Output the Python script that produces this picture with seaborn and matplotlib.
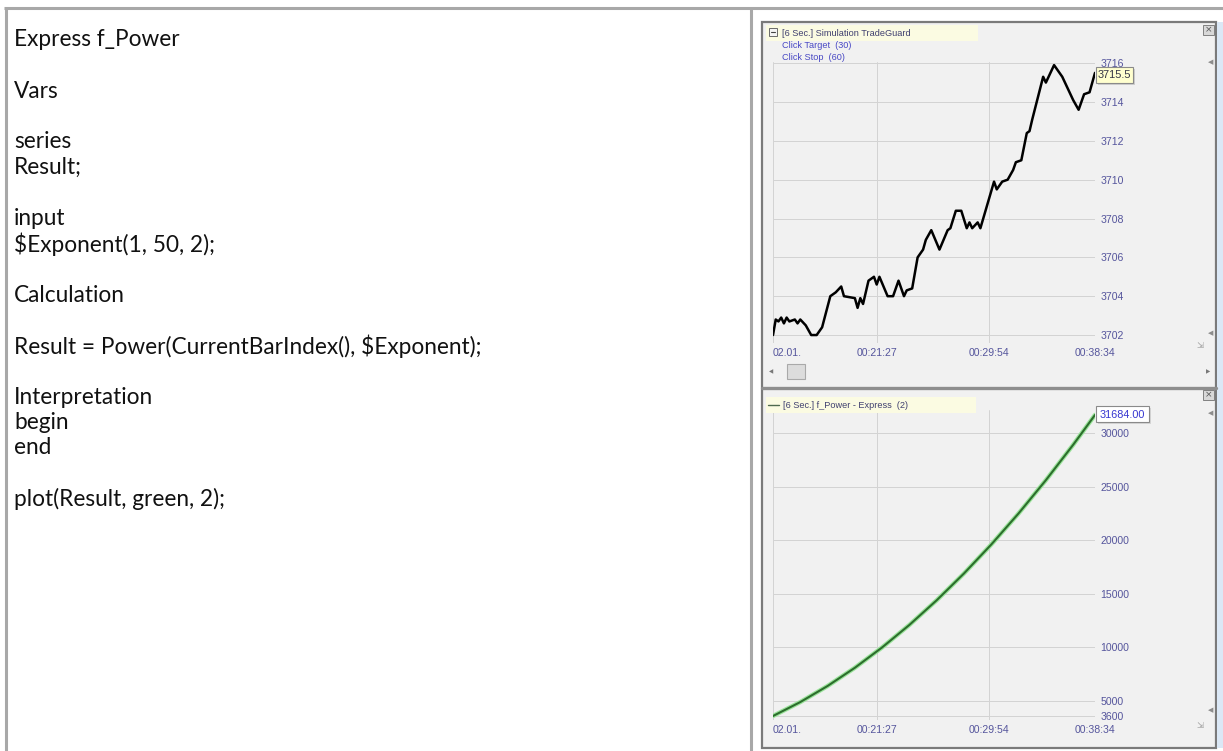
import numpy as np
import pandas as pd
import matplotlib
matplotlib.use("Agg")
import matplotlib.pyplot as plt
import seaborn as sns
from matplotlib.patches import Rectangle

# ---- data ----
code_lines = [
    (0, "Express f_Power"),
    (2, "Vars"),
    (4, "series"),
    (5, "Result;"),
    (7, "input"),
    (8, "$Exponent(1, 50, 2);"),
    (10, "Calculation"),
    (12, "Result = Power(CurrentBarIndex(), $Exponent);"),
    (14, "Interpretation"),
    (15, "begin"),
    (16, "end"),
    (18, "plot(Result, green, 2);"),
]

# upper panel: price (bar index / close)
price_bar = [60, 61, 62, 63, 64, 65, 66, 68, 69, 70, 72, 74, 76, 78, 81, 83, 85, 86,
             90, 91, 92, 93, 95, 97, 98, 99, 102, 104, 106, 108, 109, 111, 113, 115,
             116, 118, 121, 124, 125, 127, 129, 131, 132, 133, 135, 136, 141, 142,
             144, 146, 148, 149, 151, 153, 154, 155, 159, 160, 163, 164, 166, 170,
             172, 174, 176, 178]
price = [3702.0, 3702.8, 3702.7, 3702.9, 3702.6, 3702.9, 3702.7, 3702.8, 3702.6,
         3702.8, 3702.5, 3702.0, 3702.0, 3702.4, 3704.0, 3704.2, 3704.5, 3704.0,
         3703.9, 3703.4, 3703.9, 3703.6, 3704.8, 3705.0, 3704.6, 3705.0, 3704.0,
         3704.0, 3704.8, 3704.0, 3704.3, 3704.4, 3706.0, 3706.4, 3706.9, 3707.4,
         3706.4, 3707.4, 3707.5, 3708.4, 3708.4, 3707.5, 3707.8, 3707.5, 3707.8,
         3707.5, 3709.9, 3709.5, 3709.9, 3710.0, 3710.5, 3710.9, 3711.0, 3712.4,
         3712.5, 3713.1, 3715.3, 3715.0, 3715.9, 3715.7, 3715.3, 3714.1, 3713.6,
         3714.4, 3714.5, 3715.5]

# lower panel: f_Power result
power_bar = [60, 70, 80, 90, 100, 110, 120, 130, 140, 150, 160, 170, 178]
power_val = [3600, 4900, 6400, 8100, 10000, 12100, 14400, 16900, 19600, 22500,
             25600, 28900, 31684]

x_ticks = [60, 98, 139, 178]
x_labels = ["02.01.", "00:21:27", "00:29:54", "00:38:34"]
upper_yticks = [3702, 3704, 3706, 3708, 3710, 3712, 3714, 3716]
lower_yticks = [3600, 5000, 10000, 15000, 20000, 25000, 30000]

W, H = 1223, 751
TICK_COL = "#55559c"
LINE_GRAY = "#a8a8a8"


def rect(x0, y0, x1, y1):
    return [x0 / W, 1 - y1 / H, (x1 - x0) / W, (y1 - y0) / H]


def px_axes(fig, z):
    ax = fig.add_axes([0, 0, 1, 1], zorder=z)
    ax.set_xlim(0, W)
    ax.set_ylim(H, 0)
    ax.axis("off")
    ax.patch.set_alpha(0)
    return ax


def style_chart(ax, yticks):
    ax.set_facecolor("none")
    for s in ax.spines.values():
        s.set_visible(False)
    ax.set_xticks(x_ticks)
    ax.set_xticklabels(x_labels)
    ax.xaxis.get_majorticklabels()[0].set_ha("left")
    ax.set_yticks(yticks)
    ax.set_yticklabels([str(v) for v in yticks])
    ax.yaxis.tick_right()
    ax.tick_params(length=0, labelsize=7.6, colors=TICK_COL, pad=3.5)
    ax.tick_params(axis="y", pad=3.8)
    for lab in ax.get_xticklabels() + ax.get_yticklabels():
        lab.set_fontfamily("Liberation Sans")
    ax.grid(True, color="#d3d3d3", lw=0.7)
    ax.set_axisbelow(True)
    ax.set_xlabel("")
    ax.set_ylabel("")
    ax.set_xlim(60, 178)


sns.set_style("white")
plt.rcParams["font.family"] = ["Lato", "DejaVu Sans"]

fig = plt.figure(figsize=(W / 100, H / 100), dpi=100)
fig.patch.set_facecolor("white")

bg = px_axes(fig, 0)
ov = px_axes(fig, 5)

# table borders of the left cell
bg.plot([4, W], [8, 8], color=LINE_GRAY, lw=2.2, solid_capstyle="butt")
bg.plot([5.5, 5.5], [8, H], color=LINE_GRAY, lw=2.2, solid_capstyle="butt")
bg.plot([751, 751], [8, H], color=LINE_GRAY, lw=2.2, solid_capstyle="butt")

for slot, txt in code_lines:
    bg.text(14, 40 + slot * 25.5, txt, fontsize=16.3, color="#111111",
            va="center", ha="left", parse_math=False)

# chart window
bg.add_patch(Rectangle((762, 22), 454, 726, fc="#f1f1f1", ec="#7a7a7a", lw=1.6))
bg.add_patch(Rectangle((1217, 22), 6, 726, fc="#dbe8f6", ec="none"))
bg.plot([762, 1216], [388, 388], color="#8e8e8e", lw=2.4)

# chart axes
ax_top = fig.add_axes(rect(773, 62, 1095, 343), zorder=2)
ax_bot = fig.add_axes(rect(773, 410, 1095, 720), zorder=2)

df_price = pd.DataFrame({"bar": price_bar, "close": price})
df_power = pd.DataFrame({"bar": power_bar, "result": power_val})

sns.lineplot(data=df_price, x="bar", y="close", ax=ax_top, color="black",
             lw=1.8, estimator=None, sort=False)
sns.lineplot(data=df_power, x="bar", y="result", ax=ax_bot, color="#9be39b",
             lw=3.2, estimator=None, sort=False)
sns.lineplot(data=df_power, x="bar", y="result", ax=ax_bot, color="#2c6e2c",
             lw=1.5, estimator=None, sort=False)

style_chart(ax_top, upper_yticks)
ax_top.set_ylim(3701.59, 3716.06)
style_chart(ax_bot, lower_yticks)
ax_bot.set_ylim(3227, 32145)

# upper header
ov.add_patch(Rectangle((766, 25), 212, 16, fc="#fbfbe2", ec="none"))
ov.add_patch(Rectangle((769, 28), 8, 8, fc="#f4f4f4", ec="#6a6a6a", lw=0.7))
ov.plot([771, 775], [32, 32], color="#444444", lw=0.8)
ov.text(782, 33, "[6 Sec.] Simulation TradeGuard", fontsize=6.6, color="#3f3f6f",
        va="center", family="Liberation Sans")
ov.text(782, 45, "Click Target  (30)", fontsize=6.6, color="#4848c4",
        va="center", family="Liberation Sans")
ov.text(782, 57, "Click Stop  (60)", fontsize=6.6, color="#4848c4",
        va="center", family="Liberation Sans")

# lower header
ov.add_patch(Rectangle((766, 397), 210, 16, fc="#fbfbe2", ec="none"))
ov.plot([768, 779], [405, 405], color="#4f6a4f", lw=1.0)
ov.text(783, 405, "[6 Sec.] f_Power - Express  (2)", fontsize=6.6, color="#3f3f6f",
        va="center", family="Liberation Sans")

# last value boxes
ov.add_patch(Rectangle((1098, 69), 37, 16, fc="#b8b8b8", ec="none", alpha=0.6))
ov.add_patch(Rectangle((1096, 67), 37, 16, fc="#ffffcf", ec="#8a8a8a", lw=0.8))
ov.text(1114.5, 75.5, "3715.5", fontsize=7.8, color="#333344", ha="center",
        va="center", family="Liberation Sans")
ov.add_patch(Rectangle((1098, 408), 53, 16, fc="#c4c4c4", ec="none", alpha=0.6))
ov.add_patch(Rectangle((1096, 406), 53, 16, fc="white", ec="#8a8a8a", lw=0.8))
ov.text(1122.5, 414.5, "31684.00", fontsize=7.8, color="#3535d0", ha="center",
        va="center", family="Liberation Sans")

# window widgets
for y in (30, 395):
    ov.add_patch(Rectangle((1203, y - 5), 11, 10, fc="#d8d8d8", ec="#808080", lw=0.7))
    ov.text(1208.5, y, "×", fontsize=6.5, color="#555555", ha="center", va="center",
            family="DejaVu Sans")
for y in (62, 333, 413, 710):
    ov.text(1211, y, "◀", fontsize=5, color="#8c8c8c", ha="center", va="center",
            family="DejaVu Sans")
for y in (346, 726):
    ov.text(1200, y, "⇲", fontsize=6, color="#9a9a9a", ha="center", va="center",
            family="DejaVu Sans")

# scroll bar row of the upper panel
ov.text(771, 372, "◀", fontsize=4, color="#777777", ha="center", va="center",
        family="DejaVu Sans")
ov.add_patch(Rectangle((787, 364), 18, 15, fc="#dcdcdc", ec="#a9a9a9", lw=0.8))
ov.text(1208, 372, "▶", fontsize=4, color="#777777", ha="center", va="center",
        family="DejaVu Sans")

fig.savefig("out.png", dpi=100)
